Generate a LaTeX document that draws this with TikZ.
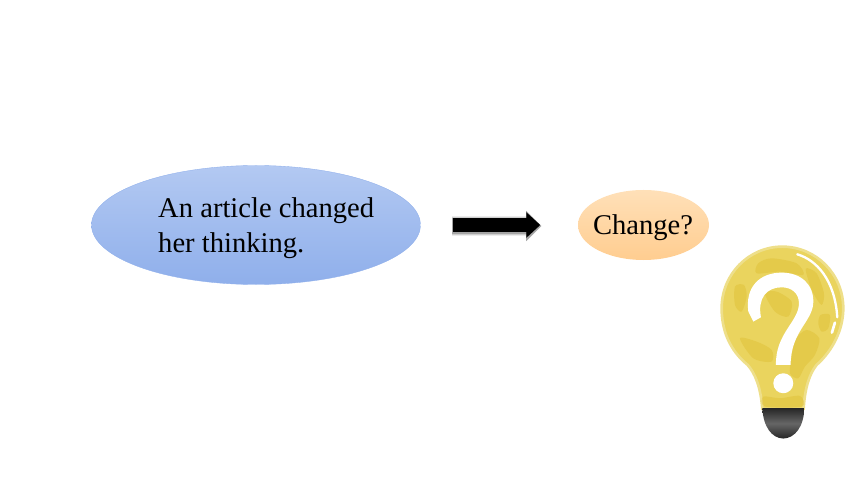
\documentclass[tikz,border=0pt]{standalone}
\usepackage{fontspec}
\setmainfont{Liberation Serif}
\usetikzlibrary{arrows.meta,shapes.geometric}
\definecolor{bluetop}{HTML}{B3C9F2}
\definecolor{bluebot}{HTML}{8FAFEB}
\definecolor{orangetop}{HTML}{FFE0B8}
\definecolor{orangebot}{HTML}{FFCD90}
\definecolor{bulbbase}{HTML}{EAD45E}
\definecolor{bulbrim}{HTML}{EEDF8A}
\definecolor{bulbdark}{HTML}{DDBB2C}
\tikzset{
  bubble/.style={ellipse,inner sep=0pt},
  lbl/.style={font=\fontsize{24.4}{29.4}\selectfont,inner sep=0pt,align=left},
  patch/.style={fill=bulbdark,opacity=.4},
  shine/.style={draw=white,line cap=round}
}
\begin{document}
\begin{tikzpicture}[x=.03cm,y=-.03cm]
  \useasboundingbox (0,0) rectangle (860,484);
  \node[bubble,minimum width=9.87cm,minimum height=3.57cm,top color=bluetop,bottom color=bluebot,draw=bluebot,line width=.3pt] (article) at (256,225) {};
  \node[lbl,anchor=west] (articletext) at (158,228) {An article changed\\her thinking.};
  \node[bubble,minimum width=3.93cm,minimum height=2.1cm,top color=orangetop,bottom color=orangebot] (change) at (643.5,225) {};
  \node[lbl] (changetext) at (643,228) {Change?};
  % soft shadow, then the arrow itself
  \foreach \w/\o in {.60/.08, .54/.12, .49/.2}
    \draw[line width=\w cm,opacity=\o,shorten <=27pt,shorten >=31pt,-{Triangle[length=.46cm,width=.88cm]}] ([yshift=-.03cm]article.east) -- ([yshift=-.03cm]change.west);
  \draw[line width=.44cm,shorten <=27.5pt,shorten >=32pt,-{Triangle[length=.42cm,width=.74cm]}] (article.east) -- (change.west);
  % the bulb
  \begin{scope}[shift={(700,230)},x=.01cm,y=-.01cm]
    \filldraw[fill=bulbbase,draw=bulbrim,line width=.08cm] (187,537) .. controls (182,470) and (165,430) .. (143,405)
      .. controls (88,360) and (65,300) .. (65,235)
      .. controls (65,132) and (147,50) .. (247,50)
      .. controls (348,50) and (430,132) .. (430,235)
      .. controls (430,300) and (398,362) .. (350,405)
      .. controls (330,430) and (315,470) .. (311,537) -- cycle;
    \fill[patch] plot[smooth cycle] coordinates {(175,100) (215,85) (290,100) (310,135) (240,125) (170,130)};
    \fill[patch] plot[smooth cycle] coordinates {(318,115) (350,130) (372,190) (365,225) (340,190) (325,150)};
    \fill[patch] plot[smooth cycle] coordinates {(105,170) (132,165) (140,200) (125,245) (105,225)};
    \fill[patch] plot[smooth cycle] coordinates {(285,330) (320,300) (358,325) (345,375) (315,410) (295,445) (270,430) (275,380)};
    \fill[patch] plot[smooth cycle] coordinates {(120,325) (170,335) (215,360) (215,395) (160,385)};
    \fill[patch] plot[smooth cycle] coordinates {(195,190) (230,185) (275,215) (265,260) (225,245)};
    \fill[patch] plot[smooth cycle] coordinates {(190,500) (240,505) (300,498) (306,530) (196,530)};
    \fill[patch] plot[smooth cycle] coordinates {(362,255) (390,255) (385,295) (365,305) (355,280)};
    % question mark
    \fill[white] (145,245) .. controls (135,170) and (180,128) .. (245,128)
      .. controls (305,128) and (342,165) .. (340,218)
      .. controls (338,275) and (272,305) .. (272,405)
      -- (228,405)
      .. controls (226,310) and (297,275) .. (297,220)
      .. controls (297,190) and (275,172) .. (245,172)
      .. controls (200,172) and (172,205) .. (183,262)
      -- (160,275) -- cycle;
    \fill[white] (250,460) circle (30);
    % highlights
    \draw[shine,line width=.07cm] (292,73) .. controls (350,90) and (405,150) .. (412,262);
    \draw[shine,line width=.08cm] (405,278) -- (396,308);
    % cap
    \shade[top color=black!85,bottom color=black!85,middle color=black!60] (187,535) -- (313,535)
      .. controls (312,590) and (285,625) .. (250,626)
      .. controls (215,625) and (190,590) .. (187,535) -- cycle;
  \end{scope}
\end{tikzpicture}
\end{document}
